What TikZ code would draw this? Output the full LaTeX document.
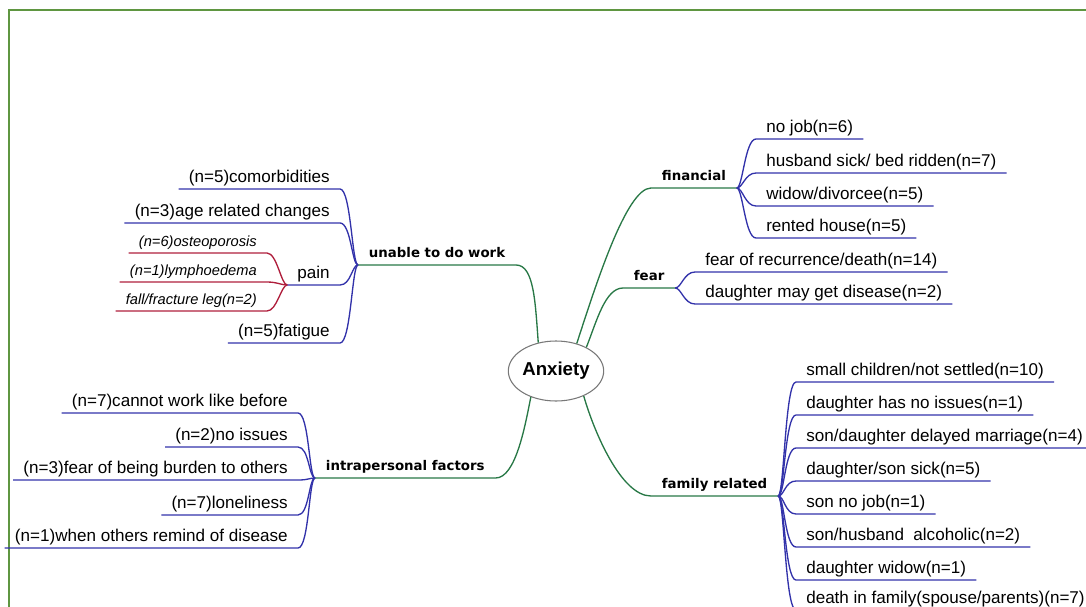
\documentclass[tikz,border=0pt]{standalone}
\usepackage{fontspec}
\setmainfont{Liberation Sans}
\newfontfamily\brfont{DejaVu Sans}
\usetikzlibrary{shapes.geometric}
\definecolor{brgreen}{RGB}{40,120,70}
\definecolor{lfblue}{RGB}{50,50,170}
\definecolor{lfred}{RGB}{175,30,60}
\definecolor{framegreen}{RGB}{95,150,65}
\definecolor{ellgray}{RGB}{120,120,120}
\begin{document}
\begin{tikzpicture}[x=0.75pt,y=-0.75pt,
 leaf/.style={font=\fontsize{12.8}{15}\selectfont, inner xsep=7.5pt, inner ysep=1.5pt, text height=9.5pt, text depth=3pt},
 ileaf/.style={font=\fontsize{11}{13}\selectfont\itshape, inner xsep=7.5pt, inner ysep=1.5pt, text height=8pt, text depth=3pt},
 branch/.style={font=\brfont\bfseries\fontsize{10}{12}\selectfont, inner xsep=8pt, inner ysep=1.75pt, text height=7.5pt, text depth=3.5pt},
 gline/.style={draw=brgreen, line width=1pt},
 bline/.style={draw=lfblue, line width=1pt},
 rline/.style={draw=lfred, line width=1pt},
 onR/.style={anchor=south west},
 onL/.style={anchor=south east},
]
\useasboundingbox (0,0) rectangle (1086,607);
\clip (0,0) rectangle (1086,607);

% frame
\draw[framegreen, line width=1.7pt] (9,620) -- (9,10) -- (1100,10);

% centre
\node[ellipse, draw=ellgray, line width=0.8pt, minimum width=66pt, minimum height=45pt, inner sep=0pt,
      font=\bfseries\fontsize{14}{16}\selectfont] (anx) at (556,371) {Anxiety};

% branches
\node[branch, onR] (unable) at (358,265) {unable to do work};
\node[branch, onR] (fin) at (651,188) {financial};
\node[branch, onR] (fear) at (623,288) {fear};
\node[branch, onR] (intra) at (315,478) {intrapersonal factors};
\node[branch, onR] (fam) at (651,496) {family related};

\draw[gline] (unable.south west) -- (unable.south east) .. controls +(18,0) and +(-3,-40) .. (anx.122);
\draw[gline] (fin.south east) -- (fin.south west) .. controls +(-25,0) and +(18,-55) .. (anx.53);
\draw[gline] (fear.south east) -- (fear.south west) .. controls +(-18,0) and +(10,-25) .. (anx.38);
\draw[gline] (intra.south west) -- (intra.south east) .. controls +(20,0) and +(-6,30) .. (anx.226);
\draw[gline] (anx.318) .. controls +(10,35) and +(-30,0) .. (fam.south west) -- (fam.south east);

% unable to do work
\node[leaf, onL] (u1) at (340,189) {(n=5)comorbidities};
\node[leaf, onL] (u2) at (340,223) {(n=3)age related changes};
\node[leaf, onL] (pain) at (340,285) {pain};
\node[leaf, onL] (u4) at (340,343) {(n=5)fatigue};
\foreach \nm in {u1,u2,pain,u4}
  \draw[bline] (unable.south west) .. controls +(-6,0) and +(11,0) .. (\nm.south east) -- (\nm.south west);

% pain
\node[ileaf, onL] (p1) at (267,253) {(n=6)osteoporosis};
\node[ileaf, onL] (p2) at (267,282) {(n=1)lymphoedema};
\node[ileaf, onL] (p3) at (267,311) {fall/fracture leg(n=2)};
\foreach \nm in {p1,p2,p3}
  \draw[rline] (pain.south west) .. controls +(-6,0) and +(10,0) .. (\nm.south east) -- (\nm.south west);

% intrapersonal factors
\node[leaf, onL] (i1) at (298,413) {(n=7)cannot work like before};
\node[leaf, onL] (i2) at (298,447) {(n=2)no issues};
\node[leaf, onL] (i3) at (298,480) {(n=3)fear of being burden to others};
\node[leaf, onL] (i4) at (298,515) {(n=7)loneliness};
\node[leaf, onL] (i5) at (298,548) {(n=1)when others remind of disease};
\foreach \nm in {i1,i2,i3,i4,i5}
  \draw[bline] (intra.south west) .. controls +(-6,0) and +(11,0) .. (\nm.south east) -- (\nm.south west);

% financial
\node[leaf, onR] (f1) at (756,139) {no job(n=6)};
\node[leaf, onR] (f2) at (756,173) {husband sick/ bed ridden(n=7)};
\node[leaf, onR] (f3) at (756,206) {widow/divorcee(n=5)};
\node[leaf, onR] (f4) at (756,238) {rented house(n=5)};
\foreach \nm in {f1,f2,f3,f4}
  \draw[bline] (fin.south east) .. controls +(6,0) and +(-11,0) .. (\nm.south west) -- (\nm.south east);

% fear
\node[leaf, onR] (e1) at (695,272) {fear of recurrence/death(n=14)};
\node[leaf, onR] (e2) at (695,304) {daughter may get disease(n=2)};
\foreach \nm in {e1,e2}
  \draw[bline] (fear.south east) .. controls +(6,0) and +(-11,0) .. (\nm.south west) -- (\nm.south east);

% family related
\node[leaf, onR] (m1) at (796,382) {small children/not settled(n=10)};
\node[leaf, onR] (m2) at (796,415) {daughter has no issues(n=1)};
\node[leaf, onR] (m3) at (796,448) {son/daughter delayed marriage(n=4)};
\node[leaf, onR] (m4) at (796,481) {daughter/son sick(n=5)};
\node[leaf, onR] (m5) at (796,514) {son no job(n=1)};
\node[leaf, onR] (m6) at (796,547) {son/husband~ alcoholic(n=2)};
\node[leaf, onR] (m7) at (796,580) {daughter widow(n=1)};
\node[leaf, onR] (m8) at (796,610) {death in family(spouse/parents)(n=7)};
\foreach \nm in {m1,m2,m3,m4,m5,m6,m7,m8}
  \draw[bline] (fam.south east) .. controls +(6,0) and +(-11,0) .. (\nm.south west) -- (\nm.south east);
\end{tikzpicture}
\end{document}
